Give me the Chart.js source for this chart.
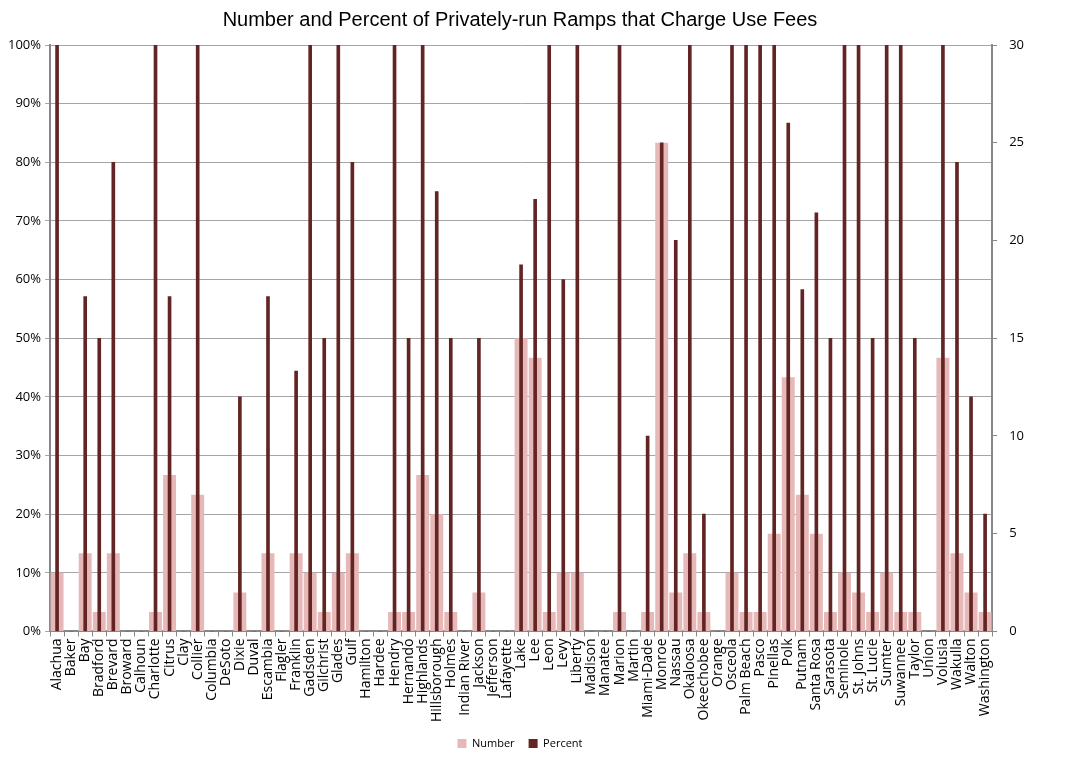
<!DOCTYPE html>
<html>
<head>
<meta charset="utf-8">
<script src="https://cdn.jsdelivr.net/npm/chart.js@4"></script>
<style>
  html, body { margin: 0; padding: 0; background: #fff; }
  #wrap { width: 1066px; height: 759px; }
</style>
</head>
<body>
<div id="wrap"><canvas id="rampChart" width="1066" height="759"></canvas></div>
<script>
const counties = ['Alachua', 'Baker', 'Bay', 'Bradford', 'Brevard', 'Broward', 'Calhoun', 'Charlotte', 'Citrus', 'Clay',
  'Collier', 'Columbia', 'DeSoto', 'Dixie', 'Duval', 'Escambia', 'Flagler', 'Franklin', 'Gadsden', 'Gilchrist',
  'Glades', 'Gulf', 'Hamilton', 'Hardee', 'Hendry', 'Hernando', 'Highlands', 'Hillsborough', 'Holmes', 'Indian River',
  'Jackson', 'Jefferson', 'Lafayette', 'Lake', 'Lee', 'Leon', 'Levy', 'Liberty', 'Madison', 'Manatee',
  'Marion', 'Martin', 'Miami-Dade', 'Monroe', 'Nassau', 'Okaloosa', 'Okeechobee', 'Orange', 'Osceola', 'Palm Beach',
  'Pasco', 'Pinellas', 'Polk', 'Putnam', 'Santa Rosa', 'Sarasota', 'Seminole', 'St. Johns', 'St. Lucie', 'Sumter',
  'Suwannee', 'Taylor', 'Union', 'Volusia', 'Wakulla', 'Walton', 'Washington'];

// number of privately-run ramps charging fees (right axis)
const numberVals = [3, 0, 4, 1, 4, 0, 0, 1, 8, 0,
  7, 0, 0, 2, 0, 4, 0, 4, 3, 1,
  3, 4, 0, 0, 1, 1, 8, 6, 1, 0,
  2, 0, 0, 15, 14, 1, 3, 3, 0, 0,
  1, 0, 1, 25, 2, 4, 1, 0, 3, 1,
  1, 5, 13, 7, 5, 1, 3, 2, 1, 3,
  1, 1, 0, 14, 4, 2, 1];

// percent of privately-run ramps charging fees (left axis)
const percentVals = [100, 0, 57.1, 50, 80, 0, 0, 100, 57.1, 0,
  100, 0, 0, 40, 0, 57.1, 0, 44.4, 100, 50,
  100, 80, 0, 0, 100, 50, 100, 75, 50, 0,
  50, 0, 0, 62.5, 73.7, 100, 60, 100, 0, 0,
  100, 0, 33.3, 83.3, 66.7, 100, 20, 0, 100, 100,
  100, 100, 86.7, 58.3, 71.4, 50, 100, 100, 50, 100,
  100, 50, 0, 100, 80, 40, 20];

const pctTicks = [0, 10, 20, 30, 40, 50, 60, 70, 80, 90, 100];
const numTicks = [0, 5, 10, 15, 20, 25, 30];

const labelFont = "'Open Sans', Lato, sans-serif";

new Chart(document.getElementById('rampChart'), {
  type: 'bar',
  data: {
    labels: counties,
    datasets: [{
      label: 'Number',
      data: numberVals,
      yAxisID: 'yNum',
      backgroundColor: '#e6b9b8',
      grouped: false,
      barPercentage: 1,
      categoryPercentage: 0.92,
      order: 2
    }, {
      label: 'Percent',
      data: percentVals,
      yAxisID: 'yPct',
      backgroundColor: '#632523',
      grouped: false,
      barThickness: 3,
      order: 1
    }]
  },
  options: {
    responsive: false,
    animation: false,
    layout: { padding: { left: 4, right: 30, top: 0, bottom: 0 } },
    plugins: {
      title: {
        display: true,
        text: 'Number and Percent of Privately-run Ramps that Charge Use Fees',
        color: '#000',
        font: { family: "'Liberation Sans', Arial, sans-serif", size: 20, weight: 'normal' },
        padding: { top: 8, bottom: 13 }
      },
      legend: {
        position: 'bottom',
        labels: {
          boxWidth: 9,
          boxHeight: 9,
          padding: 14,
          color: '#000',
          font: { family: labelFont, size: 11 },
          sort: (a, b) => a.datasetIndex - b.datasetIndex
        }
      },
      tooltip: { enabled: false }
    },
    scales: {
      x: {
        grid: { display: true, drawOnChartArea: false, color: '#888', tickLength: 5 },
        border: { color: '#888', width: 2 },
        ticks: {
          color: '#000',
          autoSkip: false,
          minRotation: 90,
          maxRotation: 90,
          padding: 2,
          font: { family: labelFont, size: 14 }
        }
      },
      yPct: {
        position: 'left',
        min: 0,
        max: 100,
        afterBuildTicks: axis => { axis.ticks = pctTicks.map(v => ({ value: v })); },
        grid: { color: '#a6a6a6', lineWidth: 1, tickLength: 5 },
        border: { color: '#888', width: 2 },
        ticks: {
          color: '#000',
          padding: 4,
          font: { family: labelFont, size: 13 },
          callback: v => v + '%'
        }
      },
      yNum: {
        position: 'right',
        min: 0,
        max: 30,
        afterBuildTicks: axis => { axis.ticks = numTicks.map(v => ({ value: v })); },
        grid: { drawOnChartArea: false, color: '#888', tickLength: 5 },
        border: { color: '#888', width: 2 },
        ticks: {
          color: '#000',
          padding: 12,
          font: { family: labelFont, size: 13 }
        }
      }
    }
  }
});
</script>
</body>
</html>
